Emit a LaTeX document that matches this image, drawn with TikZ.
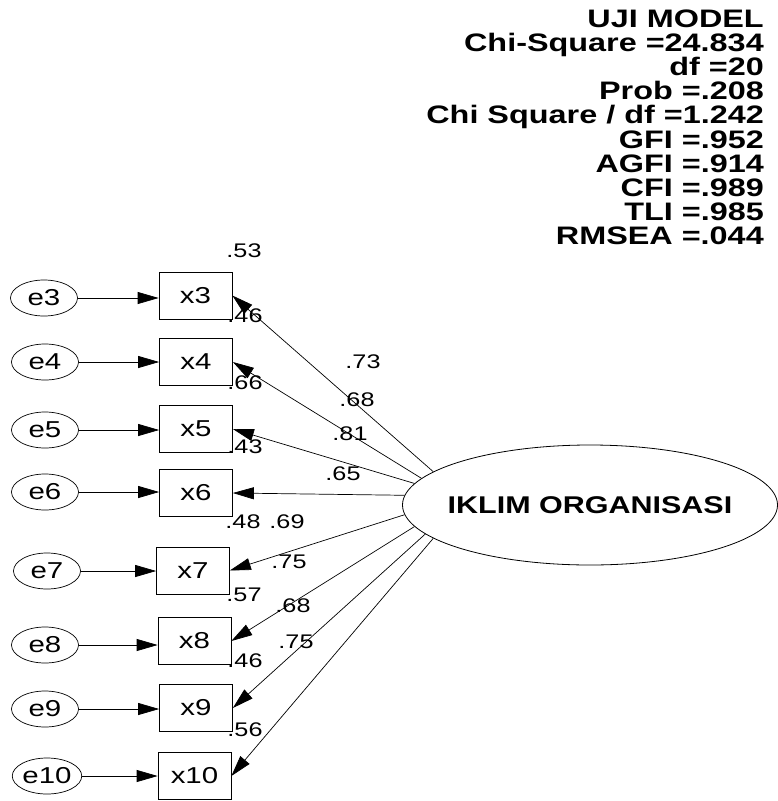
\documentclass[tikz,border=0pt]{standalone}
\usepackage{fontspec}
\setmainfont{Liberation Sans}
\newfontfamily\labfont{Liberation Sans}[FakeStretch=1.28]
\newfontfamily\varfont{Liberation Sans}[FakeStretch=1.28]
\newfontfamily\infofont{Liberation Sans}[FakeStretch=1.28]
\newfontfamily\latfont{Liberation Sans}[FakeStretch=1.26]
\usetikzlibrary{arrows.meta,shapes.geometric}
\begin{document}
\begin{tikzpicture}[x=1pt,y=-1pt,
  obs/.style={draw, line width=0.7pt, minimum width=73pt, minimum height=47pt, inner sep=0pt,
    font=\varfont\fontsize{23}{25}\selectfont},
  err/.style={draw, ellipse, line width=0.7pt, minimum width=67pt, minimum height=36pt, inner sep=0pt,
    font=\varfont\fontsize{23}{25}\selectfont},
  lat/.style={draw, ellipse, line width=0.8pt, minimum width=375pt, minimum height=120pt, inner sep=0pt},
  lattext/.style={inner sep=0pt, font=\latfont\bfseries\fontsize{24.2}{28}\selectfont},
  lab/.style={inner sep=0pt, font=\labfont\fontsize{19.7}{21}\selectfont},
  info/.style={inner sep=0pt, anchor=base east, font=\infofont\bfseries\fontsize{25.3}{27}\selectfont},
  arr/.style={line width=0.7pt, -{Triangle[length=21pt,width=12pt]}}
]
\useasboundingbox (0,0) rectangle (778,801);

% fit statistics
\node[info] (i1) at (764,27) {UJI MODEL};
\node[info] (i2) at (764,51.2) {Chi-Square =24.834};
\node[info] (i3) at (764,75.4) {df =20};
\node[info] (i4) at (764,99.6) {Prob =.208};
\node[info] (i5) at (764,123.8) {Chi Square / df =1.242};
\node[info] (i6) at (764,148) {GFI =.952};
\node[info] (i7) at (764,172.2) {AGFI =.914};
\node[info] (i8) at (764,196.4) {CFI =.989};
\node[info] (i9) at (764,220.6) {TLI =.985};
\node[info] (i10) at (764,244.8) {RMSEA =.044};

% latent
\node[lat, label={[lattext]center:IKLIM ORGANISASI}] (F) at (590,505) {};

% observed
\node[obs] (x3) at (195.5,295.5) {x3};
\node[obs] (x4) at (196,362) {x4};
\node[obs] (x5) at (196,429) {x5};
\node[obs] (x6) at (196,493) {x6};
\node[obs] (x7) at (193,570.5) {x7};
\node[obs] (x8) at (194.5,641) {x8};
\node[obs] (x9) at (196,708) {x9};
\node[obs] (x10) at (194.5,776) {x10};

% errors
\node[err] (e3) at (44,298) {e3};
\node[err] (e4) at (45,362) {e4};
\node[err] (e5) at (45,430) {e5};
\node[err] (e6) at (45,492) {e6};
\node[err] (e7) at (47,571) {e7};
\node[err] (e8) at (45,645) {e8};
\node[err] (e9) at (45,709) {e9};
\node[err] (e10) at (47,776) {e10};

\foreach \i in {3,...,10}{
  \draw[arr] (e\i.east) -- (e\i.east -| x\i.west);
}

% loadings
\draw[arr] (F.168.2) -- (x3.east);
\draw[arr] (F.171.4) -- (x4.east);
\draw[arr] (F.173.6) -- (x5.east);
\draw[arr] (F.177.6) -- (x6.east);
\draw[arr] (F.183.7) -- (x7.east);
\draw[arr] (F.187.4) -- (x8.east);
\draw[arr] (F.190.1) -- (x9.east);
\draw[arr] (F.192) -- (x10.east);

% squared multiple correlations
\node[lab] (r3) at (244,251) {.53};
\node[lab] (r4) at (245,316) {.46};
\node[lab] (r5) at (245,383) {.66};
\node[lab] (r6) at (245,447) {.43};
\node[lab] (r7) at (243,522) {.48};
\node[lab] (r8) at (244,595) {.57};
\node[lab] (r9) at (245,661) {.46};
\node[lab] (r10) at (245,730) {.56};

% loading values
\node[lab] (l3) at (363,362) {.73};
\node[lab] (l4) at (357,400) {.68};
\node[lab] (l5) at (350,434) {.81};
\node[lab] (l6) at (343,474) {.65};
\node[lab] (l7) at (287,522) {.69};
\node[lab] (l8) at (289,562) {.75};
\node[lab] (l9) at (293,606) {.68};
\node[lab] (l10) at (296,642) {.75};
\end{tikzpicture}
\end{document}
